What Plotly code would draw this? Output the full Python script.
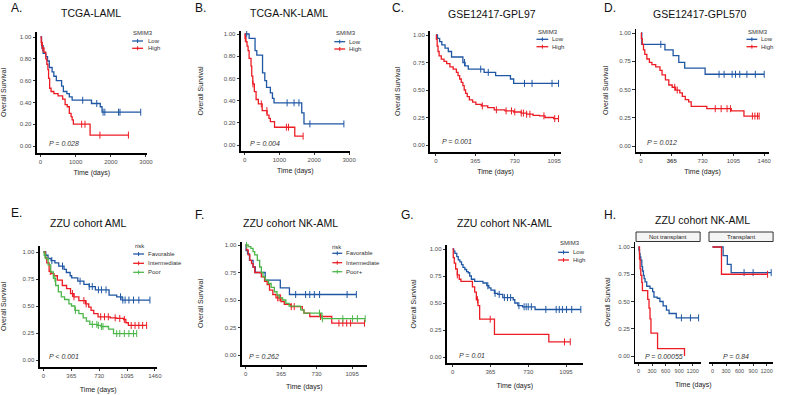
import plotly.graph_objects as go

W, H = 785, 395
FONT = "Liberation Sans, Arial, sans-serif"
RED, BLUE, GREEN = "#EC1C24", "#1F57A4", "#4BB749"

# ---------------- data ----------------
SMIM3_groups = ["Low", "High"]
risk_groups = ["Favorable", "Intermediate", "Poor"]
risk_groups_F = ["Favorable", "Intermediate", "Poor+"]

titles = ["TCGA-LAML", "TCGA-NK-LAML", "GSE12417-GPL97", "GSE12417-GPL570",
          "ZZU cohort AML", "ZZU cohort NK-AML", "ZZU cohort NK-AML", "ZZU cohort NK-AML"]
letters = ["A.", "B.", "C.", "D.", "E.", "F.", "G.", "H."]
pvals = ["P = 0.028", "P = 0.004", "P = 0.001", "P = 0.012",
         "P < 0.001", "P = 0.262", "P = 0.01", "P = 0.00055", "P = 0.84"]
facets_H = ["Not transplant", "Transplant"]

yt_02 = [0, 0.2, 0.4, 0.6, 0.8, 1.0]
yt_025 = [0, 0.25, 0.5, 0.75, 1.0]
xt_tcga = [0, 1000, 2000, 3000]
xt_3y = [0, 365, 730, 1095]
xt_4y = [0, 365, 730, 1095, 1460]
xt_H = [0, 300, 600, 900, 1200]

# A
A_low_t = [0, 30, 75, 150, 200, 250, 330, 380, 450, 600, 650, 750, 820, 900, 1450, 1700, 1750, 2850]
A_low_s = [1.0, 0.92, 0.85, 0.82, 0.78, 0.72, 0.68, 0.64, 0.60, 0.55, 0.50, 0.48, 0.45, 0.42, 0.39, 0.36, 0.31, 0.31]
A_low_c = [40, 1200, 1600, 1780, 1830, 2220, 2260, 2850]
A_high_t = [0, 20, 50, 100, 150, 180, 210, 230, 260, 300, 380, 500, 630, 700, 760, 820, 870, 900, 935, 1410, 2500]
A_high_s = [1.0, 0.95, 0.90, 0.86, 0.80, 0.75, 0.70, 0.62, 0.53, 0.50, 0.48, 0.46, 0.43, 0.38, 0.36, 0.30, 0.27, 0.24, 0.20, 0.10, 0.10]
A_high_c = [30, 60, 1170, 1265, 1690, 2500]
# B
B_low_t = [0, 130, 300, 350, 515, 580, 630, 740, 800, 845, 1640, 1705, 2850]
B_low_s = [1.0, 0.96, 0.85, 0.81, 0.65, 0.58, 0.52, 0.47, 0.42, 0.38, 0.29, 0.19, 0.19]
B_low_c = [60, 1220, 1420, 1560, 1875, 2850]
B_high_t = [0, 15, 40, 70, 100, 130, 185, 205, 235, 280, 330, 395, 505, 645, 700, 740, 860, 1440, 1680]
B_high_s = [1.0, 0.96, 0.93, 0.89, 0.85, 0.78, 0.71, 0.62, 0.55, 0.48, 0.41, 0.37, 0.31, 0.27, 0.24, 0.21, 0.16, 0.08, 0.08]
B_high_c = [20, 240, 480, 640, 1200, 1260, 1680]
# C
C_low_t = [0, 15, 35, 55, 85, 115, 145, 250, 270, 300, 446, 553, 690, 720, 1135]
C_low_s = [1.0, 0.97, 0.94, 0.91, 0.88, 0.85, 0.80, 0.75, 0.72, 0.69, 0.66, 0.63, 0.60, 0.56, 0.56]
C_low_c = [265, 415, 485, 820, 890, 1075, 1135]
C_high_t = [0, 5, 12, 20, 30, 50, 75, 100, 130, 160, 190, 205, 220, 235, 250, 262, 275, 290, 310, 340, 370,
            420, 480, 540, 640, 720, 790, 840, 900, 960, 1010, 1090, 1135]
C_high_s = [1.0, 0.96, 0.90, 0.85, 0.81, 0.78, 0.76, 0.74, 0.71, 0.69, 0.66, 0.63, 0.60, 0.57, 0.54, 0.50, 0.47,
            0.44, 0.41, 0.39, 0.37, 0.355, 0.34, 0.32, 0.31, 0.30, 0.29, 0.28, 0.27, 0.265, 0.25, 0.24, 0.24]
C_high_c = [430, 560, 650, 700, 730, 790, 810, 840, 870, 1000, 1100, 1135]
# D
D_low_t = [0, 10, 284, 381, 448, 518, 760, 1460]
D_low_s = [1.0, 0.90, 0.85, 0.80, 0.74, 0.69, 0.635, 0.635]
D_low_c = [235, 925, 985, 1080, 1120, 1170, 1255, 1355, 1460]
D_high_t = [0, 5, 15, 30, 45, 70, 100, 130, 175, 225, 250, 290, 330, 370, 410, 460, 490, 525, 565, 595,
            780, 1070, 1220, 1400]
D_high_s = [1.0, 0.95, 0.90, 0.85, 0.81, 0.77, 0.74, 0.72, 0.70, 0.67, 0.63, 0.585, 0.54, 0.52, 0.495, 0.47,
            0.44, 0.41, 0.39, 0.35, 0.33, 0.31, 0.265, 0.265]
D_high_c = [400, 430, 880, 950, 1020, 1060, 1320, 1350, 1380, 1400]
# E
E_fav_t = [0, 30, 60, 100, 150, 200, 270, 300, 350, 370, 450, 530, 600, 680, 860, 960, 1030, 1395]
E_fav_s = [1.0, 0.97, 0.94, 0.92, 0.90, 0.87, 0.84, 0.81, 0.78, 0.76, 0.73, 0.70, 0.68, 0.65, 0.60, 0.585, 0.555, 0.555]
E_fav_c = [110, 250, 480, 600, 640, 720, 760, 820, 1010, 1040, 1070, 1120, 1180, 1250, 1395]
E_int_t = [0, 25, 43, 74, 100, 139, 182, 247, 303, 355, 399, 464, 550, 593, 624, 659, 715, 875, 960,
           1050, 1080, 1113, 1352]
E_int_s = [1.0, 0.95, 0.90, 0.82, 0.80, 0.78, 0.74, 0.69, 0.66, 0.615, 0.585, 0.55, 0.52, 0.49, 0.46, 0.43,
           0.40, 0.39, 0.385, 0.375, 0.345, 0.32, 0.32]
E_int_c = [90, 380, 400, 530, 560, 750, 800, 850, 940, 1000, 1060, 1150, 1200, 1250, 1300, 1352]
E_poor_t = [0, 10, 30, 61, 95, 130, 160, 195, 234, 277, 334, 368, 412, 464, 520, 563, 607, 702, 754, 853, 918, 1222]
E_poor_s = [1.0, 0.97, 0.94, 0.88, 0.815, 0.755, 0.69, 0.63, 0.585, 0.56, 0.52, 0.50, 0.46, 0.43, 0.39, 0.36,
            0.33, 0.32, 0.31, 0.285, 0.245, 0.245]
E_poor_c = [20, 150, 420, 640, 700, 720, 760, 780, 960, 1000, 1060, 1120, 1180, 1222]
# F
F_fav_t = [0, 5, 20, 40, 77, 100, 202, 357, 451, 1139]
F_fav_s = [1.0, 0.95, 0.92, 0.86, 0.80, 0.75, 0.68, 0.61, 0.55, 0.55]
F_fav_c = [515, 617, 660, 707, 761, 1044, 1139]
F_int_t = [0, 10, 27, 44, 61, 77, 94, 162, 195, 222, 246, 280, 313, 364, 398, 465, 583, 600, 660, 886, 1223]
F_int_s = [1.0, 0.955, 0.91, 0.86, 0.83, 0.80, 0.75, 0.71, 0.67, 0.64, 0.59, 0.55, 0.52, 0.485, 0.46, 0.44,
           0.41, 0.38, 0.35, 0.29, 0.29]
F_int_c = [330, 345, 360, 470, 500, 770, 960, 1000, 1040, 1080, 1223]
F_poor_t = [0, 27, 54, 77, 94, 121, 145, 162, 179, 202, 236, 263, 296, 323, 347, 381, 414, 448, 566, 600, 785, 1230]
F_poor_s = [1.0, 0.985, 0.97, 0.94, 0.91, 0.86, 0.80, 0.75, 0.71, 0.68, 0.65, 0.615, 0.575, 0.545, 0.52, 0.50,
            0.47, 0.445, 0.41, 0.38, 0.33, 0.33]
F_poor_c = [10, 760, 790, 1000, 1100, 1150, 1230]
# G
G_low_t = [0, 10, 22, 40, 54, 70, 86, 100, 118, 135, 150, 165, 181, 213, 293, 330, 350, 370, 404, 436, 484,
           585, 600, 630, 675, 796, 1238]
G_low_s = [1.0, 0.98, 0.96, 0.93, 0.90, 0.88, 0.855, 0.83, 0.81, 0.79, 0.78, 0.75, 0.72, 0.70, 0.685, 0.66,
           0.64, 0.62, 0.59, 0.58, 0.55, 0.53, 0.50, 0.475, 0.465, 0.44, 0.44]
G_low_c = [340, 410, 450, 500, 530, 560, 640, 690, 710, 730, 760, 900, 1000, 1030, 1060, 1100, 1150, 1238]
G_high_t = [0, 6, 16, 29, 45, 64, 80, 191, 213, 229, 245, 261, 404, 929, 1136]
G_high_s = [1.0, 0.92, 0.87, 0.815, 0.76, 0.72, 0.70, 0.65, 0.60, 0.53, 0.475, 0.35, 0.21, 0.14, 0.14]
G_high_c = [45, 240, 363, 1080, 1136]
# H (faceted by transplant)
H_nt_low_t = [0, 10, 22, 35, 51, 73, 90, 109, 125, 145, 182, 255, 313, 342, 415, 473, 545, 618, 676, 836, 1330]
H_nt_low_s = [1.0, 0.97, 0.94, 0.91, 0.88, 0.82, 0.78, 0.74, 0.71, 0.68, 0.64, 0.62, 0.59, 0.54, 0.53, 0.50,
              0.46, 0.42, 0.39, 0.35, 0.35]
H_nt_low_c = [950, 1150, 1330]
H_nt_high_t = [0, 22, 36, 51, 73, 87, 204, 233, 255, 276, 422, 1018]
H_nt_high_s = [1.0, 0.89, 0.80, 0.74, 0.675, 0.60, 0.52, 0.44, 0.34, 0.21, 0.067, 0.0]
H_nt_high_c = []
H_tr_low_t = [0, 236, 329, 414, 1300]
H_tr_low_s = [1.0, 0.92, 0.84, 0.765, 0.765]
H_tr_low_c = [700, 900, 1300]
H_tr_high_t = [0, 200, 1220]
H_tr_high_s = [1.0, 0.75, 0.75]
H_tr_high_c = [1220]


def surv_at(ts, ss, t):
    v = ss[0]
    for ti, si in zip(ts, ss):
        if ti <= t:
            v = si
        else:
            break
    return v


def fx(p):
    return p / W


def fy(p):
    return 1 - p / H


# panel layout: axis box in px (x0, x1, ytop, ybottom), calibration pixels
panels = [
    dict(box=(32, 144, 32, 153), xcal=(0, 36, 3000, 143), ycal=(37, 146), xt=xt_tcga, yt=yt_02, so=14, xso=6,
         curves=[(A_low_t, A_low_s, A_low_c, BLUE), (A_high_t, A_high_s, A_high_c, RED)]),
    dict(box=(239, 350, 31, 151), xcal=(0, 243, 3000, 349), ycal=(34, 145), xt=xt_tcga, yt=yt_02, so=19, xso=6,
         curves=[(B_low_t, B_low_s, B_low_c, BLUE), (B_high_t, B_high_s, B_high_c, RED)]),
    dict(box=(431, 564, 31, 152), xcal=(0, 437, 1095, 557), ycal=(35, 145), xt=xt_3y, yt=yt_025, so=11, xso=6,
         curves=[(C_low_t, C_low_s, C_low_c, BLUE), (C_high_t, C_high_s, C_high_c, RED)]),
    dict(box=(640, 775, 29, 152), xcal=(0, 645, 1460, 770), ycal=(33, 146), xt=xt_4y, yt=yt_025, so=9, xso=6,
         curves=[(D_low_t, D_low_s, D_low_c, BLUE), (D_high_t, D_high_s, D_high_c, RED)]),
    dict(box=(35, 154, 246, 367), xcal=(0, 39, 1460, 152), ycal=(252, 360), xt=xt_4y, yt=yt_025, so=18, xso=9,
         curves=[(E_fav_t, E_fav_s, E_fav_c, BLUE), (E_int_t, E_int_s, E_int_c, RED),
                 (E_poor_t, E_poor_s, E_poor_c, GREEN)]),
    dict(box=(240, 367, 242, 365), xcal=(0, 244, 1095, 352), ycal=(245, 355), xt=xt_3y, yt=yt_025, so=20, xso=8,
         curves=[(F_fav_t, F_fav_s, F_fav_c, BLUE), (F_int_t, F_int_s, F_int_c, RED),
                 (F_poor_t, F_poor_s, F_poor_c, GREEN)]),
    dict(box=(448, 586, 245, 363), xcal=(0, 454, 1095, 569), ycal=(249, 357), xt=xt_3y, yt=yt_025, so=12, xso=9,
         curves=[(G_low_t, G_low_s, G_low_c, BLUE), (G_high_t, G_high_s, G_high_c, RED)]),
    dict(box=(639, 706, 242, 362), xcal=(0, 642.5, 1200, 697.5), ycal=(247, 356), xt=xt_H, yt=yt_025, so=6, xso=4,
         curves=[(H_nt_low_t, H_nt_low_s, H_nt_low_c, BLUE), (H_nt_high_t, H_nt_high_s, H_nt_high_c, RED)]),
    dict(box=(714, 779, 242, 362), xcal=(0, 717.5, 1200, 772.5), ycal=(247, 356), xt=xt_H, yt=yt_025, so=6, xso=4,
         curves=[(H_tr_low_t, H_tr_low_s, H_tr_low_c, BLUE), (H_tr_high_t, H_tr_high_s, H_tr_high_c, RED)],
         noy=True),
]

fig = go.Figure()
layout = dict(width=W, height=H, autosize=False, margin=dict(l=0, r=0, t=0, b=0),
              plot_bgcolor="white", paper_bgcolor="white", showlegend=False,
              font=dict(family=FONT, size=6, color="#333333"))

tickfont = dict(family=FONT, size=6, color="#4d4d4d")
tickfont_H = dict(family=FONT, size=5.5, color="#4d4d4d")
for i, p in enumerate(panels, start=1):
    xa = "xaxis" if i == 1 else f"xaxis{i}"
    ya = "yaxis" if i == 1 else f"yaxis{i}"
    xr = "x" if i == 1 else f"x{i}"
    yr = "y" if i == 1 else f"y{i}"
    bx0, bx1, by0, by1 = p["box"]
    v0, p0, v1, p1 = p["xcal"]
    sc = (p1 - p0) / (v1 - v0)
    xrange = [v0 + (bx0 - p0) / sc, v0 + (bx1 - p0) / sc]
    py1, py0 = p["ycal"]
    scy = (py0 - py1)  # px per unit
    yrange = [(py0 - by1) / scy, (py0 - by0) / scy]
    xtext = [str(v) for v in p["xt"]]
    if i == 4:
        xtext = ["<b>" + t + "</b>" if t == "365" else t for t in xtext]
    ytext = ["%.2f" % v for v in p["yt"]]
    show_xtitle = i <= 7
    layout[xa] = dict(domain=[fx(bx0), fx(bx1)], range=xrange, anchor=yr,
                      showline=True, linecolor="black", linewidth=1.5, ticks="outside", ticklen=2.5,
                      tickwidth=1, tickcolor="#333333", tickvals=p["xt"], ticktext=xtext,
                      tickfont=tickfont_H if i >= 8 else tickfont, tickangle=0,
                      showgrid=False, zeroline=False, fixedrange=True,
                      title=dict(text="Time (days)" if show_xtitle else "", font=dict(family=FONT, size=7, color="#222"),
                                 standoff=p["xso"]))
    if p.get("noy"):
        layout[ya] = dict(domain=[fy(by1), fy(by0)], range=yrange, anchor=xr, showline=False,
                          showticklabels=False, ticks="", showgrid=False, zeroline=False)
    else:
        layout[ya] = dict(domain=[fy(by1), fy(by0)], range=yrange, anchor=xr,
                          showline=True, linecolor="black", linewidth=1.5, ticks="outside", ticklen=2.5,
                          tickwidth=1, tickcolor="#333333", tickvals=p["yt"], ticktext=ytext, tickfont=tickfont,
                          showgrid=False, zeroline=False,
                          title=dict(text="Overall Survival", font=dict(family=FONT, size=7, color="#222"),
                                     standoff=p["so"]))
    for ts, ss, cs, col in p["curves"]:
        fig.add_trace(go.Scatter(x=ts, y=ss, mode="lines", line=dict(color=col, width=1.3, shape="hv"),
                                 xaxis=xr, yaxis=yr, hoverinfo="skip"))
        if cs:
            fig.add_trace(go.Scatter(x=cs, y=[surv_at(ts, ss, c) for c in cs], mode="markers",
                                     marker=dict(symbol="line-ns", size=5, color=col,
                                                 line=dict(color=col, width=1)),
                                     xaxis=xr, yaxis=yr, hoverinfo="skip"))

annotations = []
shapes = []

# titles and panel letters
title_pos = [(87, 13), (288, 13), (494, 14), (705, 14), (85, 223), (290, 223), (507, 223), (707, 220)]
letter_pos = [(4, 8), (191, 8), (390, 8), (605, 8), (4, 213), (191, 215), (400, 215), (605, 215)]
for t, (x, y) in zip(titles, title_pos):
    annotations.append(dict(text=t, x=fx(x), y=fy(y), xref="paper", yref="paper", showarrow=False,
                            xanchor="center", yanchor="middle", font=dict(family=FONT, size=10.5, color="#111")))
for t, (x, y) in zip(letters, letter_pos):
    annotations.append(dict(text=t, x=fx(x), y=fy(y), xref="paper", yref="paper", showarrow=False,
                            xanchor="left", yanchor="middle", font=dict(family=FONT, size=12, color="#111")))

# p-values
p_pos = [(43, 144), (246, 144), (441, 142), (649, 143), (43, 356), (245, 356), (458, 355), (647, 356), (726, 356)]
for t, (x, y) in zip(pvals, p_pos):
    annotations.append(dict(text="<i>" + t + "</i>", x=fx(x), y=fy(y), xref="paper", yref="paper",
                            showarrow=False, xanchor="left", yanchor="middle",
                            font=dict(family=FONT, size=7, color="#333")))

# legends: (title, title_x, title_y, key_x0, key_x1, text_x, item_ys, labels, colors)
legend_specs = [
    ("SMIM3", 128, 33, 129, 140, 143, [41, 48.3], SMIM3_groups, [BLUE, RED]),
    ("SMIM3", 334, 33, 334, 345, 347, [41.7, 49], SMIM3_groups, [BLUE, RED]),
    ("SMIM3", 539, 32, 539, 551, 553, [39.3, 46.7], SMIM3_groups, [BLUE, RED]),
    ("SMIM3", 752, 32, 752, 763, 765, [39.3, 46.7], SMIM3_groups, [BLUE, RED]),
    ("risk", 130, 246, 130, 141, 143.5, [254, 263.3, 272.3], risk_groups, [BLUE, RED, GREEN]),
    ("risk", 330, 246.7, 332, 342, 344, [253.3, 262.7, 271.7], risk_groups_F, [BLUE, RED, GREEN]),
    ("SMIM3", 561, 243.3, 561, 572, 574, [252.3, 260], SMIM3_groups, [BLUE, RED]),
]
for ttl, tx, ty, k0, k1, txx, ys, labs, cols in legend_specs:
    annotations.append(dict(text=ttl, x=fx(tx), y=fy(ty), xref="paper", yref="paper", showarrow=False,
                            xanchor="left", yanchor="middle", font=dict(family=FONT, size=6, color="#333")))
    for yy, lab, col in zip(ys, labs, cols):
        annotations.append(dict(text=lab, x=fx(txx), y=fy(yy), xref="paper", yref="paper", showarrow=False,
                                xanchor="left", yanchor="middle", font=dict(family=FONT, size=6, color="#333")))
        shapes.append(dict(type="line", xref="paper", yref="paper", x0=fx(k0), x1=fx(k1), y0=fy(yy), y1=fy(yy),
                           line=dict(color=col, width=1.3)))
        km = (k0 + k1) / 2
        shapes.append(dict(type="line", xref="paper", yref="paper", x0=fx(km), x1=fx(km), y0=fy(yy - 2),
                           y1=fy(yy + 2), line=dict(color=col, width=1)))

# facet strips for H
strip_boxes = [(640, 705), (714, 779)]
for lab, (s0, s1) in zip(facets_H, strip_boxes):
    shapes.append(dict(type="rect", xref="paper", yref="paper", x0=fx(s0), x1=fx(s1), y0=fy(241.5), y1=fy(232),
                       line=dict(color="#333", width=1), fillcolor="#f4f4f4"))
    annotations.append(dict(text=lab, x=fx((s0 + s1) / 2), y=fy(236.8), xref="paper", yref="paper",
                            showarrow=False, xanchor="center", yanchor="middle",
                            font=dict(family=FONT, size=6, color="#222")))
annotations.append(dict(text="Time (days)", x=fx(698), y=fy(385), xref="paper", yref="paper", showarrow=False,
                        xanchor="center", yanchor="middle", font=dict(family=FONT, size=7, color="#222")))

layout["annotations"] = annotations
layout["shapes"] = shapes
fig.update_layout(**layout)
fig.write_html("out.html", config={"displayModeBar": False, "staticPlot": True},
               post_script="document.body.style.margin='0px';document.body.style.overflow='hidden';")
